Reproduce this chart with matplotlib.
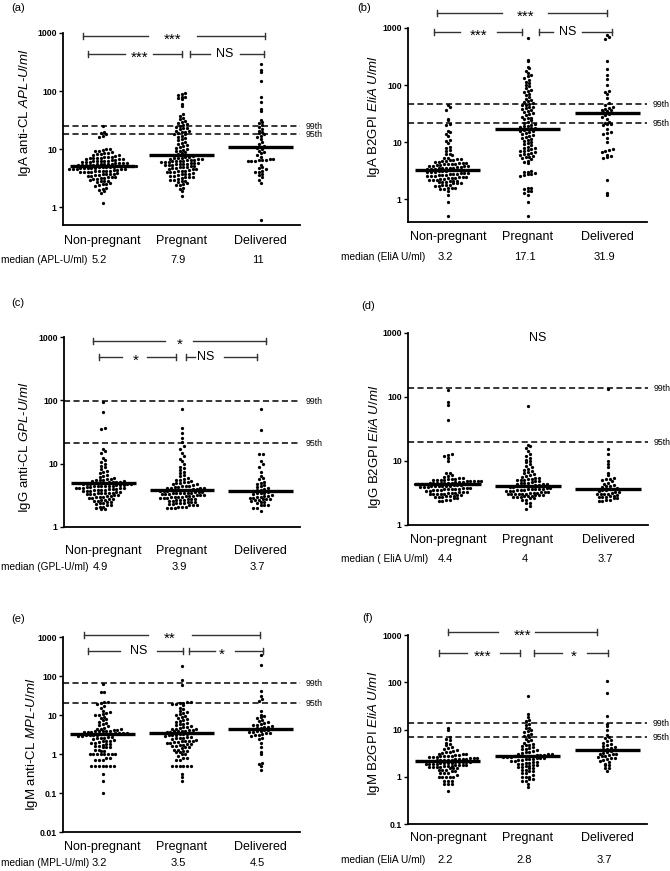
import numpy as np
import matplotlib
matplotlib.use("Agg")
import matplotlib.pyplot as plt
from matplotlib.transforms import blended_transform_factory

plt.rcParams['font.family'] = ['Liberation Sans', 'DejaVu Sans']
plt.rcParams['mathtext.fontset'] = 'custom'
plt.rcParams['mathtext.rm'] = 'Liberation Sans'
plt.rcParams['mathtext.it'] = 'Liberation Sans:italic'

groups = ["Non-pregnant", "Pregnant", "Delivered"]

# ---- (a) IgA anti-CL ----
a_np = [1.2, 1.8, 1.9, 2.0, 2.1, 2.2, 2.3, 2.4, 2.5, 2.5, 2.6, 2.7, 2.8, 2.8, 2.9,
        3.0, 3.1, 3.1, 3.2, 3.2, 3.3, 3.3, 3.4, 3.5, 3.5, 3.6, 3.6, 3.7, 3.7, 3.8, 3.8,
        3.9, 4.0, 4.0, 4.1, 4.1, 4.2, 4.2, 4.3, 4.3, 4.3, 4.4, 4.4,
        4.5, 4.5, 4.6, 4.6, 4.6, 4.7, 4.7, 4.8, 4.8, 4.8, 4.9, 4.9, 4.9, 5.0,
        5.0, 5.1, 5.1, 5.1, 5.2, 5.2, 5.2, 5.3, 5.3, 5.3, 5.4, 5.4, 5.5, 5.5, 5.6, 5.6,
        5.7, 5.8, 5.8, 5.9, 5.9, 6.0, 6.0, 6.1, 6.2, 6.2, 6.3, 6.4, 6.4, 6.5,
        6.6, 6.7, 6.8, 6.9, 7.0, 7.0, 7.1, 7.2, 7.3, 7.4, 7.5, 7.7, 7.9, 8.0, 8.2, 8.4, 8.5,
        8.7, 9.0, 9.2, 9.5, 9.7, 10.0, 10.2, 16.5, 17.0, 18.0, 19.0, 20.0, 25.0]
a_p = [1.6, 1.9, 2.1, 2.2, 2.4, 2.4, 2.5, 2.6, 2.7, 2.8, 2.9, 3.0, 3.0, 3.1, 3.2, 3.3, 3.3,
       3.4, 3.5, 3.5, 3.6, 3.7, 3.8, 3.8, 3.9, 4.0, 4.0, 4.1, 4.2, 4.3, 4.3, 4.4, 4.5, 4.5,
       4.6, 4.7, 4.8, 4.9, 5.0, 5.0, 5.1, 5.2, 5.3, 5.3, 5.4, 5.5, 5.5, 5.6, 5.7, 5.8, 5.8,
       5.9, 6.0, 6.0, 6.1, 6.2, 6.2, 6.3, 6.4, 6.5, 6.5, 6.6, 6.7, 6.8, 6.9, 7.0, 7.1, 7.2,
       7.3, 7.5, 7.7, 8.3, 8.6, 8.9, 9.2, 9.5, 9.8, 10.2, 10.6, 11.0, 11.4, 11.8, 12.2, 12.8,
       13.5, 14.2, 15.0, 15.8, 16.5, 17.2, 18.0, 18.5, 19.0, 19.5, 20.0, 20.5, 21.0, 22.0,
       23.0, 23.5, 24.0, 25.0, 26.0, 27.0, 28.0, 30.0, 31.0, 33.0, 35.0, 37.0, 40.0, 55.0,
       60.0, 72.0, 75.0, 78.0, 80.0, 85.0, 88.0, 92.0]
a_d = [0.6, 2.6, 3.0, 3.4, 3.6, 3.8, 4.0, 4.1, 4.3, 4.5, 4.8, 5.0, 5.3, 6.2, 6.3, 6.4, 6.5,
       6.5, 6.6, 6.7, 6.8, 7.5, 8.0, 8.5, 9.0, 9.5, 10.0, 10.5, 11.0, 11.5, 12.5, 13.5, 15.0,
       16.5, 17.0, 18.0, 19.0, 20.0, 21.0, 22.0, 24.0, 26.0, 28.0, 30.0, 32.0, 45.0, 50.0,
       65.0, 80.0, 150.0, 210.0, 230.0, 290.0]

# ---- (b) IgA B2GPI ----
b_np = [0.5, 0.9, 1.2, 1.4, 1.5, 1.5, 1.6, 1.6, 1.6, 1.7, 1.7, 1.8, 1.8, 1.8, 1.9, 1.9, 1.9,
        2.0, 2.0, 2.0, 2.1, 2.1, 2.1, 2.2, 2.2, 2.2, 2.3, 2.3, 2.4, 2.4, 2.4, 2.5, 2.5, 2.5,
        2.6, 2.6, 2.6, 2.7, 2.7, 2.7, 2.8, 2.8, 2.8, 2.9, 2.9, 2.9, 3.0, 3.0, 3.0, 3.1, 3.1,
        3.1, 3.2, 3.2, 3.2, 3.3, 3.3, 3.3, 3.4, 3.4, 3.4, 3.5, 3.5, 3.5, 3.6, 3.6, 3.7, 3.7,
        3.8, 3.8, 3.9, 3.9, 4.0, 4.0, 4.1, 4.1, 4.2, 4.2, 4.3, 4.3, 4.4, 4.5, 4.5, 4.6, 4.7,
        4.8, 4.9, 5.0, 5.1, 5.2, 5.3, 5.9, 6.1, 6.3, 7.0, 7.3, 8.0, 8.3, 9.5, 10.5, 11.0,
        13.0, 14.0, 15.0, 16.0, 20.0, 21.0, 24.0, 25.0, 37.0, 42.0, 44.0]
b_p = [0.5, 0.9, 1.2, 1.3, 1.4, 1.4, 1.5, 1.6, 1.6, 2.6, 2.7, 2.8, 2.8, 2.9, 3.0, 3.0, 3.1,
       4.3, 4.5, 4.7, 5.0, 5.2, 5.4, 5.6, 5.8, 6.0, 6.1, 6.3, 6.5, 6.7, 6.9, 7.0, 7.2, 7.5,
       7.8, 8.0, 8.4, 8.8, 9.2, 9.6, 10.0, 10.5, 11.0, 11.5, 12.0, 12.5, 13.0, 13.5, 14.0,
       14.5, 15.0, 15.5, 16.0, 16.5, 17.0, 17.5, 18.0, 18.5, 19.0, 19.5, 20.0, 21.0, 22.0,
       23.0, 24.0, 25.0, 26.0, 27.0, 28.0, 30.0, 31.0, 32.0, 34.0, 35.0, 36.0, 38.0, 40.0,
       41.0, 42.0, 44.0, 45.0, 46.0, 48.0, 50.0, 52.0, 55.0, 58.0, 62.0, 66.0, 70.0, 75.0,
       78.0, 82.0, 88.0, 95.0, 100.0, 110.0, 115.0, 125.0, 135.0, 145.0, 150.0, 165.0,
       180.0, 200.0, 210.0, 260.0, 280.0, 680.0]
b_d = [1.2, 1.3, 2.2, 5.3, 5.5, 5.8, 6.0, 6.8, 7.0, 7.2, 7.5, 10.0, 12.0, 14.0, 14.5, 15.0,
       17.0, 20.0, 20.5, 21.0, 22.0, 23.0, 25.0, 28.0, 30.0, 31.0, 32.0, 34.0, 35.0, 36.0,
       37.0, 38.0, 40.0, 42.0, 45.0, 48.0, 60.0, 70.0, 75.0, 80.0, 100.0, 130.0, 150.0,
       190.0, 260.0, 650.0, 700.0, 760.0]

# ---- (c) IgG anti-CL ----
c_np = [1.9, 1.9, 2.0, 2.1, 2.1, 2.2, 2.2, 2.3, 2.4, 2.4, 2.5, 2.5, 2.6, 2.6, 2.7, 2.7, 2.8,
        2.8, 2.9, 2.9, 3.0, 3.0, 3.0, 3.1, 3.1, 3.2, 3.2, 3.3, 3.3, 3.3, 3.4, 3.4, 3.5, 3.5,
        3.5, 3.6, 3.6, 3.7, 3.7, 3.7, 3.8, 3.8, 3.9, 3.9, 4.0, 4.0, 4.0, 4.1, 4.1, 4.2, 4.2,
        4.2, 4.3, 4.3, 4.4, 4.4, 4.4, 4.5, 4.5, 4.5, 4.6, 4.6, 4.6, 4.7, 4.7, 4.8, 4.8, 4.8,
        4.9, 4.9, 5.0, 5.0, 5.1, 5.1, 5.2, 5.2, 5.3, 5.4, 5.5, 5.5, 5.6, 5.7, 5.8, 6.0, 6.2,
        6.4, 6.6, 7.0, 7.4, 7.8, 8.3, 8.8, 9.3, 10.0, 10.5, 11.5, 12.5, 15.0, 16.0, 17.0,
        35.0, 36.0, 66.0, 95.0]
c_p = [2.0, 2.0, 2.0, 2.1, 2.1, 2.1, 2.2, 2.2, 2.2, 2.3, 2.3, 2.4, 2.4, 2.4, 2.5, 2.5, 2.5,
       2.6, 2.6, 2.7, 2.7, 2.7, 2.8, 2.8, 2.8, 2.9, 2.9, 2.9, 3.0, 3.0, 3.0, 3.0, 3.1, 3.1,
       3.1, 3.2, 3.2, 3.2, 3.3, 3.3, 3.3, 3.4, 3.4, 3.4, 3.5, 3.5, 3.5, 3.6, 3.6, 3.6, 3.7,
       3.7, 3.7, 3.8, 3.8, 3.8, 3.9, 3.9, 3.9, 4.0, 4.0, 4.1, 4.1, 4.2, 4.2, 4.3, 4.3, 4.4,
       4.5, 4.5, 4.6, 4.7, 4.8, 4.9, 5.0, 5.1, 5.2, 5.3, 5.5, 5.6, 5.8, 6.0, 6.3, 6.6, 7.0,
       7.5, 8.0, 8.5, 9.0, 10.0, 11.0, 12.0, 13.0, 15.0, 17.0, 19.0, 22.0, 25.0, 30.0, 36.0,
       72.0]
c_d = [1.8, 2.0, 2.0, 2.2, 2.2, 2.2, 2.4, 2.5, 2.5, 2.6, 2.7, 2.7, 2.8, 2.8, 2.8, 2.9, 2.9,
       3.0, 3.0, 3.1, 3.1, 3.2, 3.3, 3.4, 3.5, 3.5, 3.6, 3.7, 3.8, 3.9, 4.0, 4.1, 4.3, 4.4,
       4.6, 4.8, 5.0, 5.2, 5.7, 6.0, 6.5, 7.5, 9.0, 10.0, 11.0, 14.0, 14.0, 34.0, 73.0]

# ---- (d) IgG B2GPI ----
d_np = [2.4, 2.4, 2.5, 2.5, 2.6, 2.6, 2.7, 2.7, 2.7, 2.8, 2.8, 2.8, 2.9, 2.9, 3.0, 3.0, 3.0,
        3.1, 3.1, 3.2, 3.2, 3.2, 3.3, 3.3, 3.3, 3.4, 3.4, 3.5, 3.5, 3.5, 3.6, 3.6, 3.7, 3.7,
        3.7, 3.8, 3.8, 3.8, 3.9, 3.9, 3.9, 4.0, 4.0, 4.0, 4.1, 4.1, 4.1, 4.2, 4.2, 4.2, 4.3,
        4.3, 4.3, 4.3, 4.4, 4.4, 4.4, 4.4, 4.5, 4.5, 4.5, 4.5, 4.6, 4.6, 4.6, 4.7, 4.7, 4.7,
        4.8, 4.8, 4.8, 4.9, 4.9, 5.0, 5.0, 5.1, 5.1, 5.2, 5.2, 5.3, 5.4, 5.5, 5.6, 5.8, 6.0,
        6.5, 6.5, 10.0, 11.0, 12.0, 12.5, 13.0, 43.0, 75.0, 85.0, 130.0]
d_p = [1.8, 2.0, 2.2, 2.2, 2.5, 2.5, 2.6, 2.6, 2.7, 2.7, 2.7, 2.8, 2.8, 2.8, 2.9, 2.9, 2.9,
       3.0, 3.0, 3.0, 3.1, 3.1, 3.1, 3.2, 3.2, 3.2, 3.3, 3.3, 3.3, 3.4, 3.4, 3.4, 3.5, 3.5,
       3.5, 3.6, 3.6, 3.7, 3.7, 3.7, 3.8, 3.8, 3.9, 3.9, 4.0, 4.0, 4.0, 4.1, 4.1, 4.2, 4.2,
       4.3, 4.3, 4.4, 4.5, 4.5, 4.6, 4.7, 4.8, 4.9, 5.0, 5.0, 5.1, 5.2, 5.3, 5.4, 5.5, 5.6,
       5.8, 6.0, 6.3, 6.5, 6.7, 7.0, 7.3, 7.6, 8.0, 8.5, 9.0, 9.5, 10.0, 10.5, 11.0, 12.0,
       13.0, 14.5, 16.0, 17.0, 18.0, 73.0]
d_d = [2.4, 2.4, 2.5, 2.5, 2.6, 2.6, 2.7, 2.7, 2.7, 2.8, 2.8, 2.9, 3.0, 3.0, 3.1, 3.1, 3.2,
       3.3, 3.3, 3.4, 3.5, 3.5, 3.6, 3.7, 3.8, 3.9, 4.0, 4.1, 4.2, 4.4, 4.6, 4.8, 5.0, 5.2,
       5.3, 5.4, 6.0, 6.5, 8.0, 9.0, 10.0, 13.0, 15.5, 135.0]

# ---- (e) IgM anti-CL ----
e_np = [0.1, 0.2, 0.3, 0.5, 0.5, 0.5, 0.5, 0.5, 0.5, 0.5, 0.7, 0.7, 0.7, 0.8, 0.8, 1.0, 1.0,
        1.0, 1.0, 1.0, 1.0, 1.0, 1.0, 1.2, 1.2, 1.3, 1.3, 1.5, 1.5, 1.5, 1.6, 1.6, 1.7, 1.8,
        1.8, 1.9, 1.9, 2.0, 2.1, 2.2, 2.2, 2.3, 2.4, 2.5, 2.5, 2.6, 2.7, 2.8, 2.9, 2.9, 3.0,
        3.0, 3.1, 3.1, 3.2, 3.2, 3.3, 3.3, 3.4, 3.4, 3.5, 3.5, 3.6, 3.6, 3.7, 3.8, 3.9, 3.9,
        4.0, 4.0, 4.1, 4.2, 4.3, 4.4, 4.5, 4.6, 5.2, 5.5, 5.8, 6.3, 6.8, 7.5, 8.0, 8.5, 9.0,
        10.0, 10.0, 10.5, 11.0, 12.0, 13.0, 15.0, 17.0, 19.0, 20.0, 21.0, 22.0, 38.0, 40.0,
        62.0]
e_p = [0.2, 0.25, 0.3, 0.5, 0.5, 0.5, 0.5, 0.5, 0.5, 0.7, 0.7, 0.8, 0.8, 0.9, 1.0, 1.0, 1.1,
       1.1, 1.2, 1.2, 1.3, 1.3, 1.4, 1.5, 1.5, 1.6, 1.6, 1.7, 1.7, 1.8, 1.8, 1.9, 1.9, 2.0,
       2.0, 2.1, 2.1, 2.2, 2.2, 2.3, 2.4, 2.5, 2.5, 2.6, 2.7, 2.8, 2.9, 3.0, 3.0, 3.1, 3.2,
       3.3, 3.3, 3.4, 3.5, 3.5, 3.6, 3.7, 3.8, 3.9, 4.0, 4.0, 4.1, 4.2, 4.3, 4.4, 4.5, 4.7,
       4.9, 5.0, 5.2, 5.5, 5.8, 6.0, 6.3, 6.7, 7.0, 7.5, 8.0, 8.5, 9.0, 9.5, 10.0, 10.5,
       11.0, 12.0, 13.0, 14.0, 15.0, 18.0, 19.0, 19.5, 20.0, 20.5, 21.0, 22.0, 60.0, 80.0,
       180.0]
e_d = [0.4, 0.5, 0.55, 0.6, 1.0, 1.1, 1.5, 1.9, 2.4, 2.5, 2.9, 3.0, 3.1, 3.2, 3.4, 3.5, 3.6,
       3.7, 3.8, 3.9, 4.1, 4.2, 4.3, 4.4, 4.5, 4.6, 4.7, 4.8, 5.0, 5.2, 5.4, 5.6, 5.9, 6.2,
       6.5, 7.0, 7.3, 8.5, 9.0, 9.5, 10.0, 13.0, 23.0, 25.0, 30.0, 42.0, 190.0, 350.0]

# ---- (f) IgM B2GPI ----
f_np = [0.5, 0.7, 0.7, 0.7, 0.8, 0.8, 0.8, 1.0, 1.0, 1.0, 1.0, 1.0, 1.1, 1.2, 1.2, 1.2, 1.3,
        1.3, 1.4, 1.4, 1.4, 1.5, 1.5, 1.5, 1.6, 1.6, 1.6, 1.6, 1.7, 1.7, 1.7, 1.8, 1.8, 1.8,
        1.8, 1.9, 1.9, 1.9, 1.9, 2.0, 2.0, 2.0, 2.0, 2.1, 2.1, 2.1, 2.1, 2.1, 2.2, 2.2, 2.2,
        2.2, 2.2, 2.3, 2.3, 2.3, 2.3, 2.3, 2.4, 2.4, 2.4, 2.4, 2.5, 2.5, 2.5, 2.6, 2.6, 2.6,
        2.7, 2.7, 2.8, 2.8, 2.9, 2.9, 3.0, 3.0, 3.1, 3.2, 3.3, 3.4, 3.5, 3.6, 3.8, 4.0, 4.3,
        4.6, 5.0, 5.3, 6.0, 6.3, 7.0, 10.0, 11.0]
f_p = [0.6, 0.7, 0.8, 0.8, 0.9, 0.9, 1.0, 1.0, 1.0, 1.1, 1.2, 1.2, 1.3, 1.3, 1.4, 1.4, 1.5,
       1.5, 1.6, 1.6, 1.7, 1.7, 1.8, 1.8, 1.9, 1.9, 2.0, 2.0, 2.1, 2.1, 2.2, 2.2, 2.3, 2.3,
       2.4, 2.4, 2.4, 2.5, 2.5, 2.5, 2.6, 2.6, 2.6, 2.7, 2.7, 2.7, 2.8, 2.8, 2.8, 2.9, 2.9,
       2.9, 3.0, 3.0, 3.1, 3.2, 3.3, 3.4, 3.5, 3.6, 3.8, 3.9, 4.0, 4.2, 4.4, 4.6, 4.8, 5.0,
       5.3, 5.6, 6.0, 6.3, 6.8, 7.2, 7.6, 8.0, 9.0, 9.5, 10.0, 10.5, 11.0, 12.5, 13.0, 15.0,
       16.0, 18.0, 21.0, 50.0]
f_d = [1.3, 1.5, 1.5, 1.8, 1.8, 1.9, 2.1, 2.2, 2.3, 2.4, 2.5, 2.5, 2.6, 2.7, 2.8, 2.9, 3.0,
       3.0, 3.1, 3.2, 3.4, 3.5, 3.6, 3.7, 3.8, 3.9, 4.0, 4.2, 4.5, 4.7, 5.0, 5.3, 5.6, 6.0,
       6.5, 7.0, 7.5, 10.0, 12.0, 13.0, 19.0, 60.0, 105.0]

medians = [[5.2, 7.9, 11], [3.2, 17.1, 31.9], [4.9, 3.9, 3.7],
           [4.4, 4, 3.7], [3.2, 3.5, 4.5], [2.2, 2.8, 3.7]]
median_labels = [["5.2", "7.9", "11"], ["3.2", "17.1", "31.9"], ["4.9", "3.9", "3.7"],
                 ["4.4", "4", "3.7"], ["3.2", "3.5", "4.5"], ["2.2", "2.8", "3.7"]]
median_titles = ["median (APL-U/ml)", "median (EliA U/ml)", "median (GPL-U/ml)",
                 "median ( EliA U/ml)", "median (MPL-U/ml)", "median (EliA U/ml)"]
ylabels = [r"IgA anti-CL $\mathit{APL}$-$\mathit{U/ml}$",
           r"IgA B2GPI $\mathit{EliA\ U/ml}$",
           r"IgG anti-CL $\mathit{GPL}$-$\mathit{U/ml}$",
           r"IgG B2GPI $\mathit{EliA\ U/ml}$",
           r"IgM anti-CL $\mathit{MPL}$-$\mathit{U/ml}$",
           r"IgM B2GPI $\mathit{EliA\ U/ml}$"]
pct99 = [25, 46, 97, 138, 66, 13.4]
pct95 = [18, 21.5, 21, 19.8, 20.3, 6.8]
ylims = [(0.5, 1000), (0.4, 1000), (1, 1000), (1, 1000), (0.01, 1000), (0.1, 1000)]
panel_letters = ["(a)", "(b)", "(c)", "(d)", "(e)", "(f)"]

# brackets: x start, x end, y (axes fraction), label, text x, gap start, gap end
brackets = [
    [(-0.25, 2.06, 0.984, "***", 0.89, 0.58, 1.20),
     (-0.18, 1.01, 0.890, "***", 0.47, 0.28, 0.64),
     (1.11, 2.05, 0.890, "NS", 1.55, 1.36, 1.74)],
    [(-0.14, 2.00, 1.077, "***", 0.97, 0.68, 1.26),
     (-0.17, 0.93, 0.979, "***", 0.38, 0.15, 0.62),
     (1.14, 2.06, 0.979, "NS", 1.50, 1.32, 1.68)],
    [(-0.13, 2.07, 0.979, "*", 0.97, 0.78, 1.14),
     (-0.06, 0.92, 0.895, "*", 0.41, 0.24, 0.55),
     (1.05, 1.95, 0.895, "NS", 1.30, 1.16, 1.54)],
    [],
    [(-0.23, 1.99, 1.010, "**", 0.85, 0.58, 1.13),
     (-0.18, 1.02, 0.928, "NS", 0.46, 0.22, 0.69),
     (1.09, 2.03, 0.928, "*", 1.51, 1.42, 1.68)],
    [(0.00, 1.87, 1.016, "***", 0.94, 0.63, 1.09),
     (-0.11, 0.91, 0.905, "***", 0.44, 0.24, 0.65),
     (1.08, 2.01, 0.905, "*", 1.58, 1.43, 1.75)],
]

data = [(a_np, a_p, a_d), (b_np, b_p, b_d), (c_np, c_p, c_d),
        (d_np, d_p, d_d), (e_np, e_p, e_d), (f_np, f_p, f_d)]

W, H = 670, 871
# axes boxes in pixels: left, top, right, bottom
boxes = [(63, 33, 300, 225), (408, 28, 647, 222), (64, 337, 300, 527),
         (408, 333, 648, 525), (63, 637, 300, 832), (408, 635, 647, 824)]
cat_off = [16, 15, 24, 15, 15, 14]
med_off = [35, 35, 40, 34, 31, 36]
ylab_pos = [(25, 113), (374, 116), (25, 447), (375, 447), (32, 744), (374, 733)]
letter_pos = [(18, 8), (364, 8), (18, 303), (368, 306), (18, 619), (368, 618)]


def swarm(ax, pos, vals, dy_px=3.5, dx_px=3.7):
    vals = np.sort(np.asarray(vals, dtype=float))
    tr = ax.transData
    ypx = tr.transform(np.column_stack([np.full(len(vals), pos), vals]))[:, 1]
    xpu = tr.transform((1, 1))[0] - tr.transform((0, 1))[0]
    rows = np.round(ypx / dy_px)
    xs, ys = [], []
    for r in np.unique(rows):
        idx = np.where(rows == r)[0]
        n = len(idx)
        offs = (np.arange(n) - (n - 1) / 2) * dx_px / xpu
        for k, i in enumerate(idx):
            xs.append(pos + offs[k])
            ys.append(vals[i])
    ax.scatter(xs, ys, s=5.5, c='black', linewidths=0, zorder=3)


def fmt(v):
    return "%g" % v


fig = plt.figure(figsize=(W / 100, H / 100), dpi=100)

for p in range(6):
    l, t, r, b = boxes[p]
    ax = fig.add_axes([l / W, 1 - b / H, (r - l) / W, (b - t) / H])
    ax.set_yscale('log')
    ax.set_ylim(*ylims[p])
    ax.set_xlim(-0.5, 2.5)
    for s in ['top', 'right']:
        ax.spines[s].set_visible(False)
    for s in ['left', 'bottom']:
        ax.spines[s].set_linewidth(1.3)
    lo, hi = ylims[p]
    ticks = [10.0 ** k for k in range(int(np.ceil(np.log10(lo) - 1e-9)), 4)]
    ax.set_yticks(ticks)
    ax.set_yticklabels([fmt(v) for v in ticks], fontsize=6.2, fontweight='bold')
    ax.yaxis.set_minor_locator(matplotlib.ticker.NullLocator())
    ax.tick_params(axis='y', length=3, width=1, pad=1.5)
    ax.set_xticks([])

    # percentile reference lines
    for val, lab in [(pct99[p], "99th"), (pct95[p], "95th")]:
        ax.axhline(val, color='black', lw=1.1, dashes=(4, 2.2), zorder=2)
        ax.annotate(lab, xy=(1, val), xycoords=('axes fraction', 'data'),
                    xytext=(6, 0), textcoords='offset pixels',
                    ha='left', va='center', fontsize=6.3)

    for g in range(3):
        swarm(ax, g, data[p][g])
        ax.plot([g - 0.41, g + 0.41], [medians[p][g]] * 2, color='black', lw=2.4,
                solid_capstyle='butt', zorder=4)
        ax.annotate(groups[g], xy=(g, 0), xycoords=('data', 'axes fraction'),
                    xytext=(0, -cat_off[p]), textcoords='offset pixels',
                    ha='center', va='center', fontsize=9, annotation_clip=False)
        ax.annotate(median_labels[p][g], xy=(g, 0), xycoords=('data', 'axes fraction'),
                    xytext=(-3, -med_off[p]), textcoords='offset pixels',
                    ha='center', va='center', fontsize=8, annotation_clip=False)

    fig.text((1 if p % 2 == 0 else 341) / W, 1 - (b + med_off[p]) / H, median_titles[p],
             ha='left', va='center', fontsize=7.3)

    fig.text(ylab_pos[p][0] / W, 1 - ylab_pos[p][1] / H, ylabels[p],
             rotation=90, ha='center', va='center', fontsize=9.5)
    fig.text(letter_pos[p][0] / W, 1 - letter_pos[p][1] / H, panel_letters[p],
             ha='center', va='center', fontsize=8)

    trans = blended_transform_factory(ax.transData, ax.transAxes)
    cap = 3.0 / (b - t)
    for x1, x2, yb, lab, xt, g1, g2 in brackets[p]:
        for xa, xb in [(x1, g1), (g2, x2)]:
            ax.plot([xa, xb], [yb, yb], color='#333333', lw=1, transform=trans, clip_on=False)
        for xe in (x1, x2):
            ax.plot([xe, xe], [yb - cap, yb + cap], color='#333333', lw=1,
                    transform=trans, clip_on=False)
        if '*' in lab:
            ax.text(xt, yb - 0.018, lab, transform=trans, ha='center', va='center', fontsize=11)
        else:
            ax.text(xt, yb, lab, transform=trans, ha='center', va='center', fontsize=9)
    if p == 3:
        ax.text(1.12, 0.974, "NS", transform=trans, ha='center', va='center', fontsize=9)

fig.savefig("out.png", dpi=100)
